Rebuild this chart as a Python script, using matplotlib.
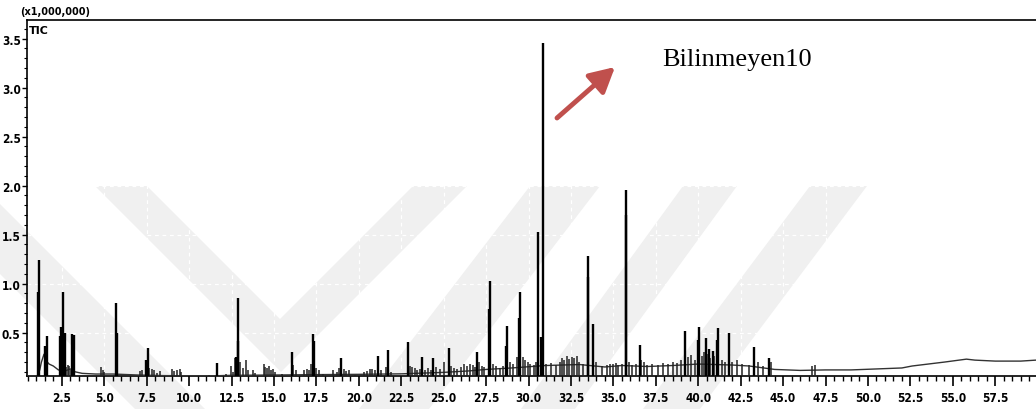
import numpy as np
import matplotlib
matplotlib.use("Agg")
import matplotlib.pyplot as plt
from matplotlib.patches import Polygon
from matplotlib.ticker import MultipleLocator, FormatStrFormatter

# retention time (min) / intensity (x1,000,000)
main_t = [1.07, 1.13, 1.50, 1.64, 2.40, 2.48, 2.58, 2.66, 3.13, 3.21, 5.70, 5.76,
          7.49, 7.55, 11.65, 12.79, 12.87, 12.91, 16.09, 17.33, 17.38, 18.95,
          21.15, 21.72, 22.88, 23.75, 24.40, 25.30, 26.96, 27.67, 27.71, 28.70,
          28.73, 29.44, 29.48, 30.55, 30.73, 30.85, 33.48, 33.52, 33.80, 35.72,
          35.74, 36.55, 39.23, 39.98, 40.02, 40.45, 40.66, 40.84, 41.13, 41.17,
          41.82, 43.30, 44.18]
main_h = [0.92, 1.245, 0.36, 0.47, 0.47, 0.56, 0.92, 0.50, 0.49, 0.48, 0.80, 0.50,
          0.22, 0.34, 0.19, 0.25, 0.41, 0.855, 0.30, 0.49, 0.41, 0.24,
          0.265, 0.325, 0.40, 0.25, 0.24, 0.345, 0.30, 0.74, 1.03, 0.36,
          0.57, 0.65, 0.91, 1.53, 0.46, 3.46, 1.07, 1.28, 0.59, 1.70,
          1.96, 0.375, 0.52, 0.43, 0.56, 0.45, 0.33, 0.31, 0.43, 0.55,
          0.50, 0.355, 0.24]

small_t = [2.75, 2.85, 2.95, 3.05, 4.8, 4.9, 5.0, 7.1, 7.2, 7.65, 7.8, 7.95, 8.1, 8.3,
           9.0, 9.1, 9.3, 9.45, 9.55, 11.2, 12.2, 12.45, 12.6, 12.7, 13.0, 13.2, 13.35,
           13.5, 13.75, 13.9, 14.4, 14.5, 14.6, 14.7, 14.8, 14.95, 15.05, 15.5, 16.15,
           16.3, 16.8, 16.95, 17.05, 17.2, 17.5, 17.65, 17.9, 18.5, 18.7, 18.85, 19.1,
           19.25, 19.45, 19.8, 20.3, 20.5, 20.65, 20.8, 20.95, 21.3, 21.6, 21.9, 23.0,
           23.15, 23.3, 23.45, 23.6, 23.9, 24.1, 24.25, 24.55, 24.8, 25.0, 25.45, 25.6,
           25.8, 26.0, 26.2, 26.4, 26.55, 26.7, 26.85, 27.1, 27.25, 27.4, 27.9, 28.1,
           28.3, 28.5, 28.9, 29.1, 29.3, 29.65, 29.8, 29.95, 30.1, 30.3, 30.45, 31.05,
           31.3, 31.6, 31.85, 32.0, 32.1, 32.25, 32.4, 32.55, 32.7, 32.85, 33.0, 33.2,
           34.0, 34.3, 34.6, 34.8, 35.0, 35.15, 35.3, 35.5, 35.9, 36.1, 36.35, 36.65,
           36.8, 37.0, 37.3, 37.6, 37.9, 38.2, 38.5, 38.75, 39.0, 39.4, 39.6, 39.8,
           40.2, 40.35, 40.55, 40.7, 40.95, 41.4, 41.6, 42.0, 42.3, 42.6, 43.0, 43.5,
           43.8, 44.3, 46.7, 46.9]
small_h = [0.15, 0.17, 0.16, 0.12, 0.15, 0.12, 0.10, 0.11, 0.12, 0.14, 0.13, 0.12, 0.09, 0.11,
           0.13, 0.11, 0.12, 0.13, 0.10, 0.07, 0.08, 0.16, 0.10, 0.24, 0.20, 0.14, 0.22,
           0.12, 0.12, 0.09, 0.18, 0.15, 0.14, 0.16, 0.12, 0.13, 0.10, 0.08, 0.17,
           0.12, 0.12, 0.13, 0.12, 0.18, 0.14, 0.12, 0.08, 0.12, 0.10, 0.14, 0.13,
           0.11, 0.12, 0.07, 0.10, 0.11, 0.13, 0.13, 0.12, 0.12, 0.15, 0.10, 0.16,
           0.15, 0.14, 0.12, 0.13, 0.12, 0.14, 0.12, 0.15, 0.13, 0.20, 0.16, 0.14,
           0.13, 0.15, 0.18, 0.16, 0.18, 0.17, 0.15, 0.20, 0.16, 0.15, 0.18, 0.16,
           0.14, 0.16, 0.20, 0.18, 0.25, 0.25, 0.22, 0.20, 0.18, 0.17, 0.20, 0.18,
           0.19, 0.17, 0.20, 0.24, 0.22, 0.26, 0.23, 0.25, 0.24, 0.26, 0.20, 0.18,
           0.20, 0.16, 0.17, 0.18, 0.18, 0.19, 0.17, 0.18, 0.20, 0.17, 0.18, 0.22,
           0.20, 0.17, 0.18, 0.17, 0.19, 0.18, 0.20, 0.19, 0.22, 0.25, 0.27, 0.22,
           0.26, 0.30, 0.28, 0.24, 0.26, 0.22, 0.20, 0.20, 0.22, 0.18, 0.17, 0.20,
           0.16, 0.20, 0.16, 0.17]

base_t = [0.45, 1.05, 1.2, 1.3, 1.45, 1.55, 1.75, 2.0, 2.3, 2.7, 3.0, 3.3, 3.7, 4.5,
          5.5, 6.0, 7.0, 8.5, 10.0, 11.5, 12.5, 15.0, 17.5, 20.0, 22.5, 25.0, 26.5,
          27.5, 29.0, 31.0, 33.0, 34.5, 35.5, 37.0, 38.5, 40.0, 42.0, 43.0, 44.5,
          46.0, 47.5, 49.0, 50.5, 52.0, 52.6, 54.5, 55.8, 56.3, 57.5, 59.0, 59.9]
base_h = [0.058, 0.058, 0.12, 0.20, 0.28, 0.22, 0.18, 0.16, 0.12, 0.11, 0.13, 0.10, 0.085, 0.078,
          0.078, 0.075, 0.068, 0.062, 0.060, 0.060, 0.065, 0.068, 0.072, 0.075, 0.080, 0.095, 0.11,
          0.125, 0.14, 0.165, 0.175, 0.15, 0.165, 0.155, 0.165, 0.18, 0.17, 0.16, 0.125,
          0.115, 0.12, 0.12, 0.13, 0.14, 0.16, 0.20, 0.23, 0.22, 0.21, 0.21, 0.22]

W, H = 1036, 410
fig = plt.figure(figsize=(W / 100, H / 100), dpi=100)
ax = fig.add_axes([27 / W, 1 - 377 / H, 1 - 27 / W, (377 - 21) / H])
ax.set_axisbelow(True)

# watermark (figure pixels, y from top)
def px(pts):
    return [(x / W, 1 - y / H) for x, y in pts]

wm = [
    [(0, 205), (205, 410), (135, 410), (0, 275)],
    [(95, 187), (147, 187), (280, 320), (413, 187), (467, 187), (281, 373)],
    [(530, 187), (600, 187), (429, 410), (359, 410)],
    [(683, 187), (737, 187), (575, 410), (521, 410)],
    [(810, 187), (867, 187), (700, 410), (643, 410)],
]
for p in wm:
    ax.add_patch(Polygon(px(p), closed=True, transform=fig.transFigure,
                         facecolor="#f0f0f0", edgecolor="none", zorder=0.1, clip_on=False))

ax.grid(True, which="major", color="white", linestyle=(0, (3, 3)), linewidth=0.9)

ax.plot(base_t, base_h, color="#333333", lw=1.0, zorder=3)
ax.vlines(small_t, 0, small_h, color="#222222", lw=1.1, zorder=3)
ax.vlines(main_t, 0, main_h, color="black", lw=1.7, zorder=4)

ax.set_xlim(0.45, 59.9)
ax.set_ylim(0.058, 3.69)

ax.xaxis.set_major_locator(MultipleLocator(2.5))
ax.xaxis.set_minor_locator(MultipleLocator(0.5))
ax.yaxis.set_major_locator(MultipleLocator(0.5))
ax.yaxis.set_minor_locator(MultipleLocator(0.1))
ax.xaxis.set_major_formatter(FormatStrFormatter("%.1f"))
ax.yaxis.set_major_formatter(FormatStrFormatter("%.1f"))

tick_font = dict(family="DejaVu Sans", weight="bold", size=8.5, stretch="condensed")
ax.tick_params(axis="x", which="major", direction="out", length=7, width=1.2, pad=4)
ax.tick_params(axis="x", which="minor", direction="out", length=3.5, width=1.0)
ax.tick_params(axis="y", which="major", direction="out", length=3.5, width=1.0, pad=1)
ax.tick_params(axis="y", which="minor", direction="out", length=2, width=0.8)
for lab in ax.get_xticklabels() + ax.get_yticklabels():
    lab.set_fontproperties(tick_font)
ax.get_yticklabels()[0].set_visible(False)

ax.spines["right"].set_visible(False)
for s in ["left", "top", "bottom"]:
    ax.spines[s].set_color("black")
    ax.spines[s].set_linewidth(1.2)

fig.text(20 / W, 1 - 12 / H, "(x1,000,000)", fontsize=7, fontweight="bold",
         va="center", ha="left")
ax.text(0.002, 0.985, "TIC", transform=ax.transAxes, fontsize=8, fontweight="bold",
        va="top", ha="left")

fig.text(662 / W, 1 - 60 / H, "Bilinmeyen10", family="Liberation Serif", fontsize=19,
         va="center", ha="left")
ax.annotate("", xy=(615, H - 68), xycoords="figure pixels",
            xytext=(557, H - 119), textcoords="figure pixels",
            arrowprops=dict(arrowstyle="-|>,head_length=0.75,head_width=0.4",
                            color="#c0504d", lw=3.5, mutation_scale=20,
                            shrinkA=0, shrinkB=0))

fig.savefig("out.png", dpi=100)
